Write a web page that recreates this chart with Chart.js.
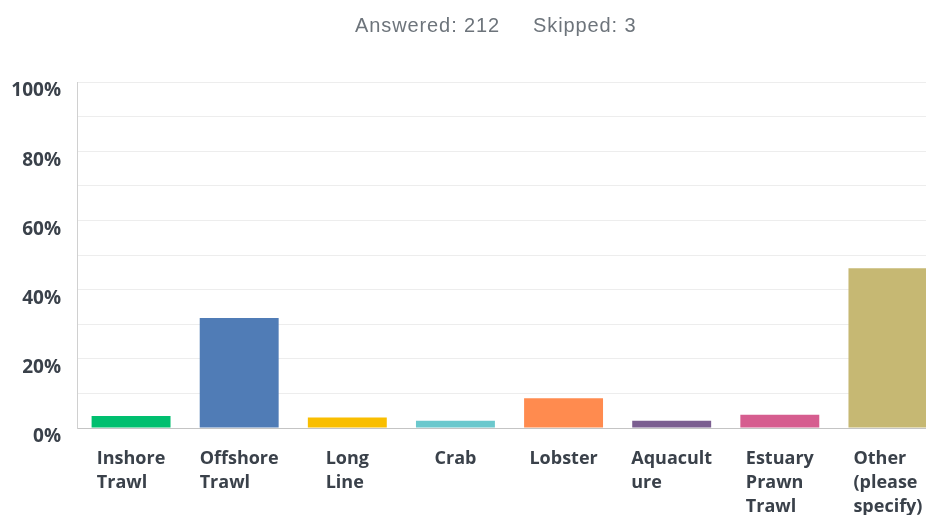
<!DOCTYPE html>
<html>
<head>
<meta charset="utf-8">
<script src="https://cdn.jsdelivr.net/npm/chart.js@4/dist/chart.umd.min.js"></script>
<style>
  html, body { margin: 0; padding: 0; background: #fff; overflow: hidden; }
  #wrap { position: relative; width: 926px; height: 515px; overflow: hidden; }
  .hdr { position: absolute; top: 14px; font-family: "Liberation Sans", Arial, sans-serif; font-size: 20px; letter-spacing: 0.9px; color: #6d747b; white-space: pre; }
  #box { position: absolute; left: 0; top: 0; width: 942px; height: 515px; }
</style>
</head>
<body>
<div id="wrap">
  <div id="box"><canvas id="c"></canvas></div>
  <div class="hdr" style="left:355px">Answered: 212</div>
  <div class="hdr" style="left:533px">Skipped: 3</div>
</div>
<script>
const categories = [
  ["Inshore", "Trawl"],
  ["Offshore", "Trawl"],
  ["Long", "Line"],
  ["Crab"],
  ["Lobster"],
  ["Aquacult", "ure"],
  ["Estuary", "Prawn", "Trawl"],
  ["Other", "(please", "specify)"]
];
const values = [3.5, 31.8, 3.0, 2.1, 8.6, 2.1, 3.8, 46.2];
const barColors = ["#00bf6f", "#507cb6", "#f9be00", "#6bc8cd", "#ff8b4f", "#7b5e90", "#d65d8f", "#c6b873"];
const yTickLabels = [0, 20, 40, 60, 80, 100];

const labelFont = 'bold 18px "Open Sans", sans-serif';
const xLabelPlugin = {
  id: 'xLabels',
  afterDraw(chart) {
    const ctx = chart.ctx;
    const xs = chart.scales.x;
    ctx.save();
    ctx.font = labelFont;
    ctx.fillStyle = '#3a414a';
    ctx.textAlign = 'left';
    ctx.textBaseline = 'top';
    chart.data.labels.forEach((lines, i) => {
      const w = Math.max(...lines.map(l => ctx.measureText(l).width));
      const x0 = xs.getPixelForValue(i) - w / 2;
      lines.forEach((l, j) => ctx.fillText(l, x0, xs.top + 22 + j * 24));
    });
    ctx.restore();
  }
};

new Chart(document.getElementById('c'), {
  type: 'bar',
  data: {
    labels: categories,
    datasets: [{
      data: values,
      backgroundColor: barColors,
      borderWidth: 0,
      categoryPercentage: 1.0,
      barPercentage: 0.73
    }]
  },
  options: {
    responsive: true,
    maintainAspectRatio: false,
    animation: false,
    devicePixelRatio: 1,
    layout: { padding: { top: 82, right: 0, left: 0, bottom: 0 } },
    plugins: { legend: { display: false }, tooltip: { enabled: false }, title: { display: false } },
    scales: {
      x: {
        grid: { display: false },
        border: { display: false },
        ticks: { display: false },
        afterFit(s) { s.height = 87; }
      },
      y: {
        min: 0, max: 100,
        ticks: {
          stepSize: 10,
          autoSkip: false,
          padding: 16,
          labelOffset: 9,
          color: '#3a414a',
          font: { family: '"Open Sans", sans-serif', weight: 'bold', size: 19 },
          callback: v => yTickLabels.includes(v) ? v + '%' : ''
        },
        grid: {
          color: c => c.tick && c.tick.value === 0 ? '#c4c4c4' : '#ededed',
          lineWidth: 1,
          drawTicks: false
        },
        border: { display: true, color: '#d0d0d0' },
        afterFit(s) { s.width = 77; }
      }
    }
  },
  plugins: [xLabelPlugin]
});
</script>
</body>
</html>
